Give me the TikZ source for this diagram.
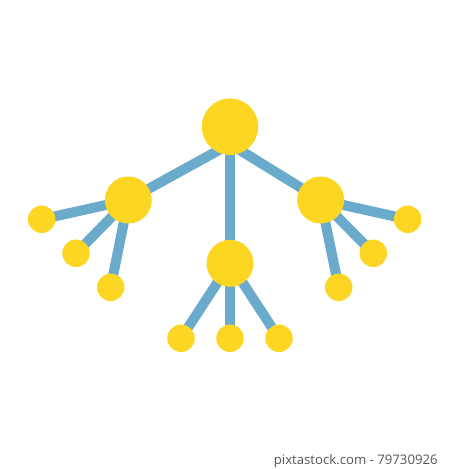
\documentclass[tikz,border=0pt]{standalone}
\usepackage{fontspec}
\setsansfont{Open Sans}
\usetikzlibrary{backgrounds}

\definecolor{hubyellow}{HTML}{FDD523}
\definecolor{linkblue}{HTML}{6AABCB}
\definecolor{markgray}{HTML}{555555}

\begin{document}
\begin{tikzpicture}[x=0.02cm,y=-0.02cm]

\tikzstyle{hub} = [circle, fill=hubyellow, minimum size=1.13cm, inner sep=0pt]
\tikzstyle{sub} = [circle, fill=hubyellow, minimum size=0.94cm, inner sep=0pt]
\tikzstyle{leaf} = [circle, fill=hubyellow, minimum size=0.55cm, inner sep=0pt]
\tikzstyle{link} = [draw=linkblue, line width=0.2cm]

\useasboundingbox (0,0) rectangle (450,469);

\node[hub] (root) at (230, 126.7) {};
\coordinate (fork) at (230, 144);

\node[sub] (left) at (128.3, 200) {};
\node[sub] (right) at (320.7, 200) {};
\node[sub] (mid) at (230, 263.3) {};

\node[leaf] (l1) at (41.7, 219.3) {};
\node[leaf] (l2) at (76, 253.3) {};
\node[leaf] (l3) at (110.7, 287.3) {};

\node[leaf] (r1) at (407.7, 219.3) {};
\node[leaf] (r2) at (373.3, 253.3) {};
\node[leaf] (r3) at (338.7, 287.3) {};

\node[leaf] (m1) at (181, 338.3) {};
\node[leaf] (m2) at (230, 338.3) {};
\node[leaf] (m3) at (279, 338.3) {};

\begin{pgfonlayer}{background}
\draw[link] (fork) -- (left.center);
\draw[link] (fork) -- (right.center);
\draw[link] (root.center) -- (mid.center);
\draw[link] (left.center) -- (l1.center);
\draw[link] (left.center) -- (l2.center);
\draw[link] (left.center) -- (l3.center);
\draw[link] (right.center) -- (r1.center);
\draw[link] (right.center) -- (r2.center);
\draw[link] (right.center) -- (r3.center);
\draw[link] (mid.center) -- (m1.center);
\draw[link] (mid.center) -- (m2.center);
\draw[link] (mid.center) -- (m3.center);
\end{pgfonlayer}

\node[anchor=east, text=markgray, font=\sffamily\fontsize{7.5}{9}\selectfont, inner sep=0pt] (credit) at (438, 461) {pixtastock.com - 79730926};

\end{tikzpicture}
\end{document}
